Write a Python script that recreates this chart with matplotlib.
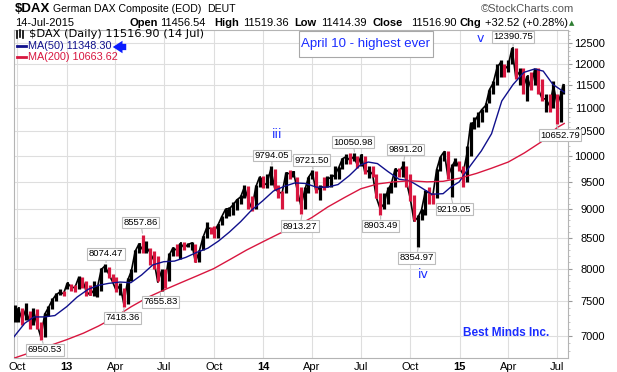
import matplotlib
matplotlib.use("Agg")
import matplotlib.pyplot as plt
from matplotlib.lines import Line2D
from matplotlib.patches import Rectangle
import pandas as pd

# weekly bars (week ending Friday), last bar = 14 Jul 2015
week_end = list(pd.date_range("2012-09-28", "2015-07-10", freq="W-FRI")) + [pd.Timestamp("2015-07-14")]

highs = [7450, 7400, 7400, 7480, 7350, 7400, 7380, 7200, 7320, 7430, 7550, 7630, 7680, 7660,
         7780, 7760, 7740, 7880, 7870, 7810, 7740, 7800, 7750, 8010, 8074, 8030, 7920,
         7870, 7780, 7700, 7860, 8000, 8300, 8420, 8558, 8450, 8340, 8290, 8200, 8000,
         8000, 8250, 8350, 8400, 8420, 8430, 8420, 8430, 8400, 8300, 8530, 8770, 8690,
         8700, 8740, 8880, 9000, 9030, 9130, 9180, 9260, 9440, 9420, 9240, 9440, 9600,
         9620, 9650, 9794, 9750, 9450, 9330, 9680, 9720, 9700, 9600, 9400, 9400, 9600,
         9722, 9700, 9450, 9600, 9620, 9650, 9800, 9780, 9960, 10030, 10050, 10051, 10000,
         10032, 10000, 9800, 9800, 9650, 9300, 9300, 9400, 9500, 9750, 9760, 9891, 9800,
         9650, 9250, 8900, 9000, 9350, 9400, 9300, 9750, 9980, 10087, 10100, 9850, 9950,
         9900, 9800, 10200, 10700, 10800, 10900, 10970, 11100, 11400, 11600, 12000, 12100, 12000,
         12100, 12391, 12390, 11900, 11900, 11720, 11800, 11900, 11900, 11650, 11300, 11300, 11600,
         11300, 11400, 11519]
lows = [7200, 7200, 7150, 7230, 7100, 7150, 7100, 6951, 6980, 7280, 7390, 7510, 7590, 7580,
        7680, 7650, 7640, 7680, 7700, 7580, 7600, 7580, 7560, 7650, 7950, 7850, 7790,
        7640, 7590, 7418, 7460, 7800, 7950, 8250, 8250, 8250, 8050, 8000, 7800, 7656,
        7700, 7800, 8200, 8200, 8150, 8300, 8350, 8300, 8100, 8100, 8300, 8500, 8560,
        8500, 8500, 8720, 8850, 8870, 8900, 8990, 9100, 9200, 9000, 8970, 9000, 9400,
        9380, 9380, 9450, 9350, 9200, 9000, 9300, 9550, 9600, 9150, 8913, 9000, 9300,
        9550, 9300, 9160, 9340, 9400, 9400, 9550, 9550, 9750, 9850, 9850, 9900, 9760,
        9800, 9650, 9580, 9600, 9200, 8903, 9000, 9100, 9300, 9400, 9600, 9600, 9400,
        9150, 8800, 8355, 8800, 8900, 9100, 9100, 9200, 9700, 9900, 9550, 9219, 9800,
        9700, 9400, 9500, 10000, 10550, 10600, 10700, 10900, 11100, 11300, 11500, 11700, 11700,
        11800, 12000, 11650, 11500, 11300, 11150, 11400, 11500, 11300, 11150, 10900, 10900, 11000,
        10653, 10700, 11300]
closes = [7216, 7398, 7233, 7380, 7203, 7363, 7163, 6980, 7309, 7405, 7517, 7596, 7636, 7612,
          7776, 7715, 7702, 7857, 7833, 7652, 7593, 7661, 7708, 7986, 8043, 7913, 7795,
          7658, 7744, 7459, 7814, 7962, 8278, 8398, 8305, 8348, 8254, 8127, 7789, 7959,
          7806, 8212, 8331, 8300, 8410, 8338, 8391, 8416, 8103, 8275, 8510, 8675, 8661,
          8620, 8725, 8869, 9001, 9009, 9078, 9168, 9221, 9405, 9172, 9006, 9400, 9589,
          9435, 9473, 9742, 9392, 9306, 9292, 9663, 9656, 9692, 9350, 9056, 9342, 9587,
          9695, 9315, 9410, 9401, 9556, 9581, 9630, 9768, 9943, 9987, 9912, 9987, 9815,
          10009, 9666, 9720, 9644, 9210, 9009, 9092, 9340, 9470, 9747, 9691, 9799, 9490,
          9195, 8788, 8850, 8987, 9326, 9291, 9252, 9733, 9980, 10087, 9594, 9786, 9923,
          9765, 9648, 10032, 10649, 10694, 10846, 10963, 11050, 11401, 11550, 11901, 12039, 11868,
          11967, 12374, 11689, 11811, 11454, 11709, 11447, 11864, 11413, 11197, 11197, 11041, 11492,
          11058, 11316, 11516]

ma50_dates = ["2012-09-25", "2012-10-15", "2012-11-01", "2012-11-20", "2012-12-10",
              "2013-01-01", "2013-01-20", "2013-02-10", "2013-03-01", "2013-03-20", "2013-04-10",
              "2013-04-30", "2013-05-20", "2013-06-10", "2013-06-30", "2013-07-20", "2013-08-10",
              "2013-08-30", "2013-09-20", "2013-10-10", "2013-10-30", "2013-11-20", "2013-12-10",
              "2013-12-31", "2014-01-20", "2014-02-10", "2014-03-01", "2014-03-20", "2014-04-10",
              "2014-04-30", "2014-05-20", "2014-06-10", "2014-06-30", "2014-07-15", "2014-08-01",
              "2014-08-20", "2014-09-10", "2014-09-30", "2014-10-20", "2014-11-10", "2014-12-01",
              "2014-12-15", "2014-12-31", "2015-01-20", "2015-02-10", "2015-03-01", "2015-03-20",
              "2015-04-10", "2015-04-30", "2015-05-20", "2015-06-05", "2015-06-23", "2015-07-14"]
ma50_vals = [6990, 7180, 7270, 7270, 7290,
             7420, 7560, 7680, 7740, 7770, 7790,
             7780, 7900, 8060, 8110, 8120, 8180,
             8260, 8330, 8450, 8600, 8780, 8980,
             9150, 9330, 9420, 9480, 9470, 9400,
             9400, 9450, 9620, 9820, 9880, 9850,
             9700, 9550, 9520, 9400, 9270, 9280,
             9400, 9500, 9800, 10100, 10450, 11150,
             11520, 11800, 11880, 11830, 11520, 11348]

ma200_dates = ["2012-09-25", "2012-11-01", "2012-12-01", "2013-01-01", "2013-02-01", "2013-03-01",
               "2013-04-01", "2013-05-01", "2013-06-01", "2013-07-01", "2013-08-01", "2013-09-01",
               "2013-10-01", "2013-11-01", "2013-12-01", "2014-01-01", "2014-02-01", "2014-03-01",
               "2014-04-01", "2014-05-01", "2014-06-01", "2014-07-01", "2014-08-01", "2014-09-01",
               "2014-10-01", "2014-11-01", "2014-12-01", "2015-01-01", "2015-02-01", "2015-03-01",
               "2015-04-01", "2015-05-01", "2015-06-01", "2015-07-01", "2015-07-14"]
ma200_vals = [6700, 6790, 6870, 6950, 7040, 7140,
              7270, 7420, 7560, 7670, 7780, 7890,
              8000, 8150, 8300, 8440, 8580, 8690,
              8850, 9040, 9210, 9370, 9460, 9500,
              9520, 9500, 9510, 9570, 9660, 9760,
              9880, 10060, 10280, 10580, 10664]

# labelled highs / lows: (text, date, value, box offset in px)
marks = [("6950.53", "2012-11-16", 6950.53, (3, -10)),
         ("8074.47", "2013-03-15", 8074.47, (0, 10)),
         ("7418.36", "2013-04-18", 7418.36, (-2, -11)),
         ("8557.86", "2013-05-22", 8557.86, (-2, 12)),
         ("7655.83", "2013-06-24", 7655.83, (0, -11)),
         ("9794.05", "2014-01-17", 9794.05, (0, 11)),
         ("8913.27", "2014-03-14", 8913.27, (-2, -12)),
         ("9721.50", "2014-04-04", 9721.50, (-2, 10)),
         ("10050.98", "2014-06-20", 10050.98, (-2, 11)),
         ("8903.49", "2014-08-07", 8903.49, (0, -11)),
         ("9891.20", "2014-09-19", 9891.20, (2, 12)),
         ("8354.97", "2014-10-16", 8354.97, (-2, -11)),
         ("9219.05", "2014-12-16", 9219.05, (3, -12)),
         ("12390.75", "2015-04-10", 12390.75, (0, 11)),
         ("10652.79", "2015-06-29", 10652.79, (4, -11))]

y_ticks = [7000, 7500, 8000, 8500, 9000, 9500, 10000, 10500, 11000, 11500, 12000, 12500]
quarters = ["2012-10-01", "2013-01-01", "2013-04-01", "2013-07-01", "2013-10-01", "2014-01-01",
            "2014-04-01", "2014-07-01", "2014-10-01", "2015-01-01", "2015-04-01", "2015-07-01"]
quarter_labels = ["Oct", "13", "Apr", "Jul", "Oct", "14", "Apr", "Jul", "Oct", "15", "Apr", "Jul"]

RED = "#d8163f"
NAVY = "#10108c"
BLUE = "#1a2cff"
W, H = 617, 372


def fx(x):
    return x / W


def fy(y):
    return 1 - y / H


fig = plt.figure(figsize=(W / 100, H / 100), dpi=100)
ax = fig.add_axes([fx(14), fy(358), (568 - 14) / W, (358 - 29.5) / H])

ax.set_yscale("log")
ax.set_ylim(6702, 12846)
ax.set_xlim(pd.Timestamp("2012-09-25"), pd.Timestamp("2015-07-21"))

# price bars
bar_x = [d - pd.Timedelta(days=2) for d in week_end]
bar_col = ["black" if i == 0 or closes[i] >= closes[i - 1] else RED for i in range(len(closes))]
ax.plot(bar_x, closes, color="black", lw=1.2, zorder=2)
ax.vlines(bar_x, lows, highs, colors=bar_col, lw=2.3, zorder=3)
ax.hlines(closes, bar_x, [d + pd.Timedelta(days=3) for d in bar_x], colors=bar_col, lw=1.2, zorder=3)

ax.plot(pd.to_datetime(ma50_dates), ma50_vals, color=NAVY, lw=1.0, zorder=4)
ax.plot(pd.to_datetime(ma200_dates), ma200_vals, color=RED, lw=1.0, zorder=4)

for txt, d, v, off in marks:
    ax.annotate(txt, xy=(pd.Timestamp(d), v), xytext=off, textcoords="offset pixels",
                ha="center", va="center", fontsize=6.8, family="Liberation Sans", zorder=6,
                bbox=dict(boxstyle="square,pad=0.15", fc="white", ec="#bcbcbc", lw=0.8),
                arrowprops=dict(arrowstyle="-", color="#bcbcbc", lw=0.8, shrinkA=0, shrinkB=1),
                annotation_clip=False)

# axes styling
ax.yaxis.tick_right()
ax.yaxis.set_major_locator(matplotlib.ticker.FixedLocator(y_ticks))
ax.yaxis.set_major_formatter(matplotlib.ticker.FixedFormatter([str(t) for t in y_ticks]))
ax.yaxis.set_minor_locator(matplotlib.ticker.FixedLocator(range(6800, 12900, 100)))
ax.yaxis.set_minor_formatter(matplotlib.ticker.NullFormatter())
ax.tick_params(axis="y", which="major", length=3, color="#999999", pad=23.5, labelsize=8)
ax.tick_params(axis="y", which="minor", length=1.5, color="#bbbbbb")
for lab in ax.get_yticklabels():
    lab.set_horizontalalignment("right")
    lab.set_family("Liberation Sans")

ax.set_xticks(pd.to_datetime(quarters))
ax.set_xticklabels(quarter_labels)
ax.tick_params(axis="x", length=0, pad=3, labelsize=8)
for lab in ax.get_xticklabels():
    lab.set_family("Liberation Sans")
    if lab.get_text().isdigit():
        lab.set_fontweight("bold")

ax.grid(True, which="major", color="#dedede", lw=0.8)
ax.set_axisbelow(True)
for s in ax.spines.values():
    s.set_color("#b4b4b4")
    s.set_linewidth(0.8)

# annotations inside the chart
ax.text(fx(277), fy(135), "iii", transform=fig.transFigure, color=BLUE, fontsize=9, ha="center", va="center")
ax.text(fx(423), fy(275), "iv", transform=fig.transFigure, color=BLUE, fontsize=9, ha="center", va="center")
ax.text(fx(480), fy(38), "v", transform=fig.transFigure, color=BLUE, fontsize=9, ha="center", va="center")
fig.patches.append(Rectangle((fx(299), fy(57)), (433 - 299) / W, 26 / H, transform=fig.transFigure,
                             fc="white", ec="#a8a8a8", lw=0.8, zorder=5))
fig.text(fx(366), fy(44), "April 10 - highest ever", color=BLUE, fontsize=9.5, ha="center", va="center",
         family="Liberation Sans", zorder=6)
fig.text(fx(506), fy(333), "Best Minds Inc.", color=BLUE, fontsize=8.5, fontweight="bold",
         ha="center", va="center", family="Liberation Sans")

# legend
fig.text(fx(29), fy(34), "$DAX (Daily) 11516.90 (14 Jul)", fontsize=8.2, va="center", family="DejaVu Sans")
fig.text(fx(28), fy(46), "MA(50) 11348.30", fontsize=7.8, va="center", color=NAVY, family="Liberation Sans")
fig.text(fx(28), fy(57), "MA(200) 10663.62", fontsize=7.8, va="center", color=RED, family="Liberation Sans")
fig.add_artist(Line2D([fx(17), fx(26)], [fy(46), fy(46)], color=NAVY, lw=2))
fig.add_artist(Line2D([fx(17), fx(26)], [fy(57), fy(57)], color=RED, lw=2))
for xx, y0, y1 in [(17, 31, 38), (20, 30, 37), (23, 31, 38)]:
    fig.add_artist(Line2D([fx(xx), fx(xx)], [fy(y1), fy(y0)], color="black", lw=1.2))
ax.annotate("", xy=(110, H - 47), xycoords="figure pixels", xytext=(129, H - 47),
            textcoords="figure pixels",
            arrowprops=dict(arrowstyle="simple,head_length=0.7,head_width=0.9,tail_width=0.45",
                            color="#0a1cff", lw=0))

# header
fig.text(fx(15), fy(9), "$DAX", fontsize=9.5, fontweight="bold", va="center", family="Liberation Sans")
fig.text(fx(53), fy(9), "German DAX Composite (EOD)", fontsize=7.6, va="center", family="Liberation Sans")
fig.text(fx(207), fy(9), "DEUT", fontsize=7.6, va="center", family="Liberation Sans")
fig.text(fx(574), fy(9), "\u00a9StockCharts.com", fontsize=8, va="center", ha="right", color="#555555",
         family="Liberation Sans")
fig.text(fx(15), fy(23), "14-Jul-2015", fontsize=8, va="center", family="Liberation Sans")
header_parts = [(129, "Open", True), (160, "11456.54", False), (214, "High", True), (243, "11519.36", False),
                (294, "Low", True), (321, "11414.39", False), (372, "Close", True), (411, "11516.90", False),
                (459, "Chg", True), (485, "+32.52 (+0.28%)", False)]
for xx, t, bold in header_parts:
    fig.text(fx(xx), fy(23), t, fontsize=8, va="center", family="Liberation Sans",
             fontweight="bold" if bold else "normal")
fig.text(fx(572), fy(23), "\u25b2", fontsize=5, va="center", ha="center", color="#2e7d32")

fig.savefig("out.png", dpi=100)
